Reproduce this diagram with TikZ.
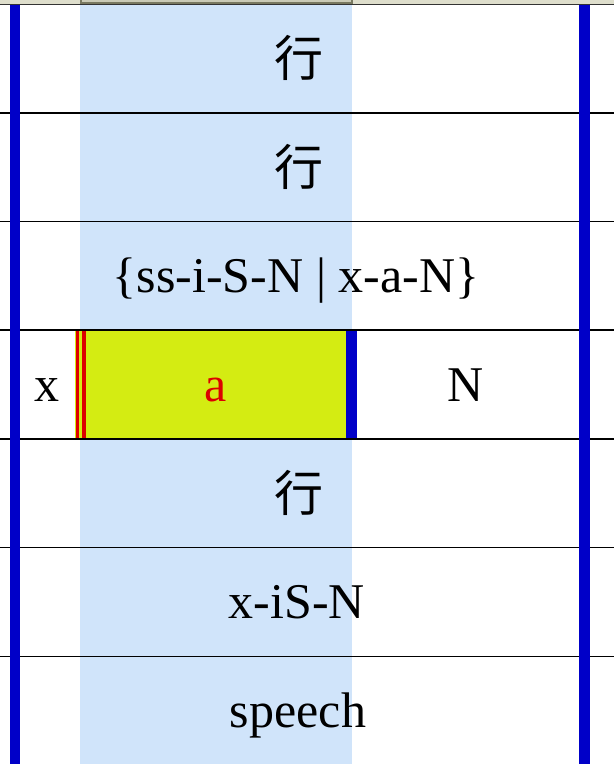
\documentclass[tikz,border=0pt]{standalone}
\usepackage{fontspec}
\setmainfont{Liberation Serif}
\newfontfamily\cjkfont{Noto Sans CJK SC}
\usetikzlibrary{positioning}
\definecolor{barblue}{RGB}{0,0,200}
\definecolor{colblue}{RGB}{208,228,250}
\definecolor{hilite}{RGB}{212,236,18}
\definecolor{redmark}{RGB}{220,0,0}
\definecolor{stripbg}{RGB}{222,222,204}
\definecolor{stripedge}{RGB}{120,120,96}
\tikzset{
  cell/.style={font=\fontsize{50}{54}\selectfont, inner sep=0pt, anchor=base},
  han/.style={font=\cjkfont\fontsize{49}{54}\selectfont, inner sep=0pt, anchor=base},
  bar/.style={fill=barblue, draw=none},
  rowline/.style={draw=black, line width=1.5pt},
}
\begin{document}
\begin{tikzpicture}[x=1pt, y=-1pt]
        \useasboundingbox (0,0) rectangle (614,764);
        \fill[white] (0,0) rectangle (614,764);

        % Spalte
        \fill[colblue] (80,5) rectangle (352,764);

        % markierte Zelle
        \fill[hilite] (75,330) rectangle (352,439);
        \fill[redmark] (75.5,330) rectangle (78.5,439);
        \fill[redmark] (82,330) rectangle (85.5,439);
        \fill[bar] (346,330) rectangle (357,439);

        % Zeilenlinien
        \foreach \y in {113, 221.5, 330.2, 438.9, 547.6, 656.3}
            \draw[rowline] (0,\y) -- (614,\y);

        % Randbalken
        \fill[bar] (10,5) rectangle (20,764);
        \fill[bar] (579,5) rectangle (590,764);

        % Leiste oben
        \fill[stripbg] (0,0) rectangle (614,4);
        \filldraw[fill=stripbg!80!stripedge, draw=stripedge, line width=1.5pt] (81,-2) rectangle (352,3);
        \draw[black!80, line width=1.8pt] (0,4.5) -- (614,4.5);

        \node[han] (h1) at (299,76) {行};
        \node[han] (h2) at (299,185) {行};
        \node[cell] (alt) at (296,292) {\{ss-i-S-N | x-a-N\}};
        \node[cell] (x) at (47,401) {x};
        \node[cell, text=redmark] (a) at (216,401) {a};
        \node[cell] (n) at (466,401) {N};
        \node[han] (h3) at (299,511) {行};
        \node[cell] (xisn) at (297,618) {x-iS-N};
        \node[cell] (speech) at (298,727) {speech};
    \end{tikzpicture}
\end{document}
